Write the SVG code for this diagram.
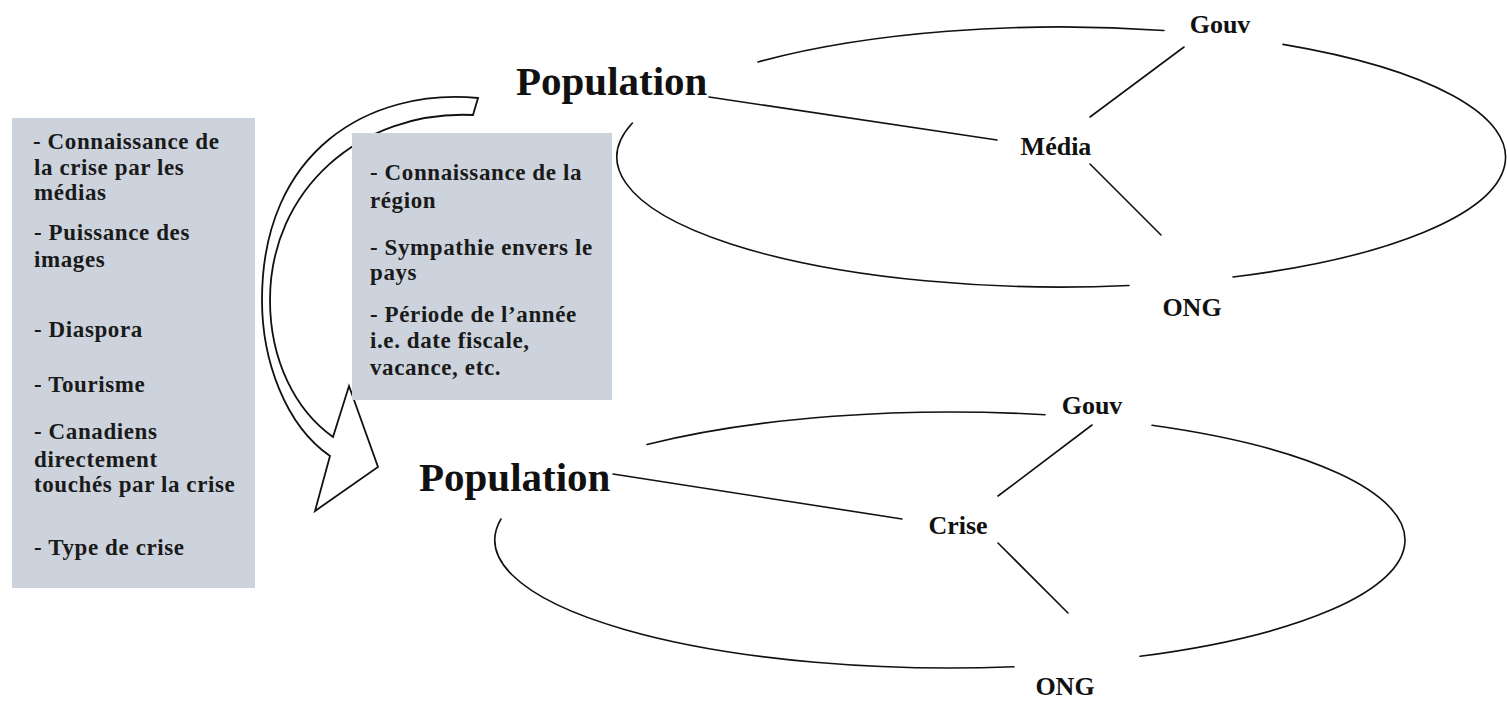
<svg xmlns="http://www.w3.org/2000/svg" width="1507" height="701" viewBox="0 0 1507 701">
<style>
  .box { fill: #cdd3dc; stroke: none; }
  .bt { font-family: "Liberation Serif", "Times New Roman", serif; font-weight: bold; font-size: 23px; letter-spacing: 0.6px; fill: #1a1a1a; }
  .pop { font-family: "Liberation Serif", "Times New Roman", serif; font-weight: bold; font-size: 41px; fill: #111; }
  .lbl { font-family: "Liberation Serif", "Times New Roman", serif; font-weight: bold; font-size: 26px; fill: #111; text-anchor: middle; }
  .ln { fill: none; stroke: #111; stroke-width: 1.6; stroke-linecap: round; }
  .arrow { fill: #fff; stroke: #111; stroke-width: 1.8; stroke-linejoin: miter; }
</style>
<rect width="1507" height="701" fill="#fff"/>

<g id="curved-arrow">
  <path class="arrow" d="M478,98 C370,88 262,150 262,300 C262,360 285,425 330,456 L315,511 L378,467 L349,386 L333,437 C295,410 270,360 270,300 C270,190 360,110 473,115 Z"/>
</g>

<g id="box-left">
  <rect class="box" x="12" y="118" width="243" height="470"/>
  <text class="bt" x="33" y="149">- Connaissance de</text>
  <text class="bt" x="34" y="175">la crise par les</text>
  <text class="bt" x="34" y="200">médias</text>
  <text class="bt" x="34" y="240">- Puissance des</text>
  <text class="bt" x="34" y="267">images</text>
  <text class="bt" x="34" y="337">- Diaspora</text>
  <text class="bt" x="34" y="392">- Tourisme</text>
  <text class="bt" x="34" y="439">- Canadiens</text>
  <text class="bt" x="34" y="467">directement</text>
  <text class="bt" x="34" y="492">touchés par la crise</text>
  <text class="bt" x="34" y="555">- Type de crise</text>
</g>

<g id="box-middle">
  <rect class="box" x="352" y="133" width="260" height="267"/>
  <text class="bt" x="370" y="180">- Connaissance de la</text>
  <text class="bt" x="370" y="208">région</text>
  <text class="bt" x="370" y="255">- Sympathie envers le</text>
  <text class="bt" x="370" y="280">pays</text>
  <text class="bt" x="370" y="322">- Période de l’année</text>
  <text class="bt" x="370" y="348">i.e. date fiscale,</text>
  <text class="bt" x="370" y="375">vacance, etc.</text>
</g>

<g id="connectors">
  <!-- top ellipse segments -->
  <path class="ln" d="M758,62 A444,130 0 0 1 1164,30.5"/>
  <path class="ln" d="M1283,44.4 A444,130 0 0 1 1233,277"/>
  <path class="ln" d="M1129,285.5 A444,130 0 0 1 632.4,123"/>
  <!-- top spokes -->
  <path class="ln" d="M709,97 L997,140"/>
  <path class="ln" d="M1184,47 L1090,117"/>
  <path class="ln" d="M1090,164 L1161,235"/>
  <!-- bottom ellipse segments -->
  <path class="ln" d="M647,444.5 A455,128 0 0 1 1045,414.8"/>
  <path class="ln" d="M1152,425.3 A455,128 0 0 1 1140,656.3"/>
  <path class="ln" d="M1014,666.7 A455,128 0 0 1 501,519"/>
  <!-- bottom spokes -->
  <path class="ln" d="M613,474 L902,519"/>
  <path class="ln" d="M1092,425 L998,496"/>
  <path class="ln" d="M998,543 L1068,613"/>
</g>

<g id="top-population"><text class="pop" x="516" y="95">Population</text></g>
<g id="top-gouv"><text class="lbl" x="1220" y="33">Gouv</text></g>
<g id="top-media"><text class="lbl" x="1056" y="155">Média</text></g>
<g id="top-ong"><text class="lbl" x="1192" y="316">ONG</text></g>

<g id="bottom-population"><text class="pop" x="419" y="491">Population</text></g>
<g id="bottom-gouv"><text class="lbl" x="1092" y="414">Gouv</text></g>
<g id="bottom-crise"><text class="lbl" x="958" y="534">Crise</text></g>
<g id="bottom-ong"><text class="lbl" x="1065" y="695">ONG</text></g>
</svg>
